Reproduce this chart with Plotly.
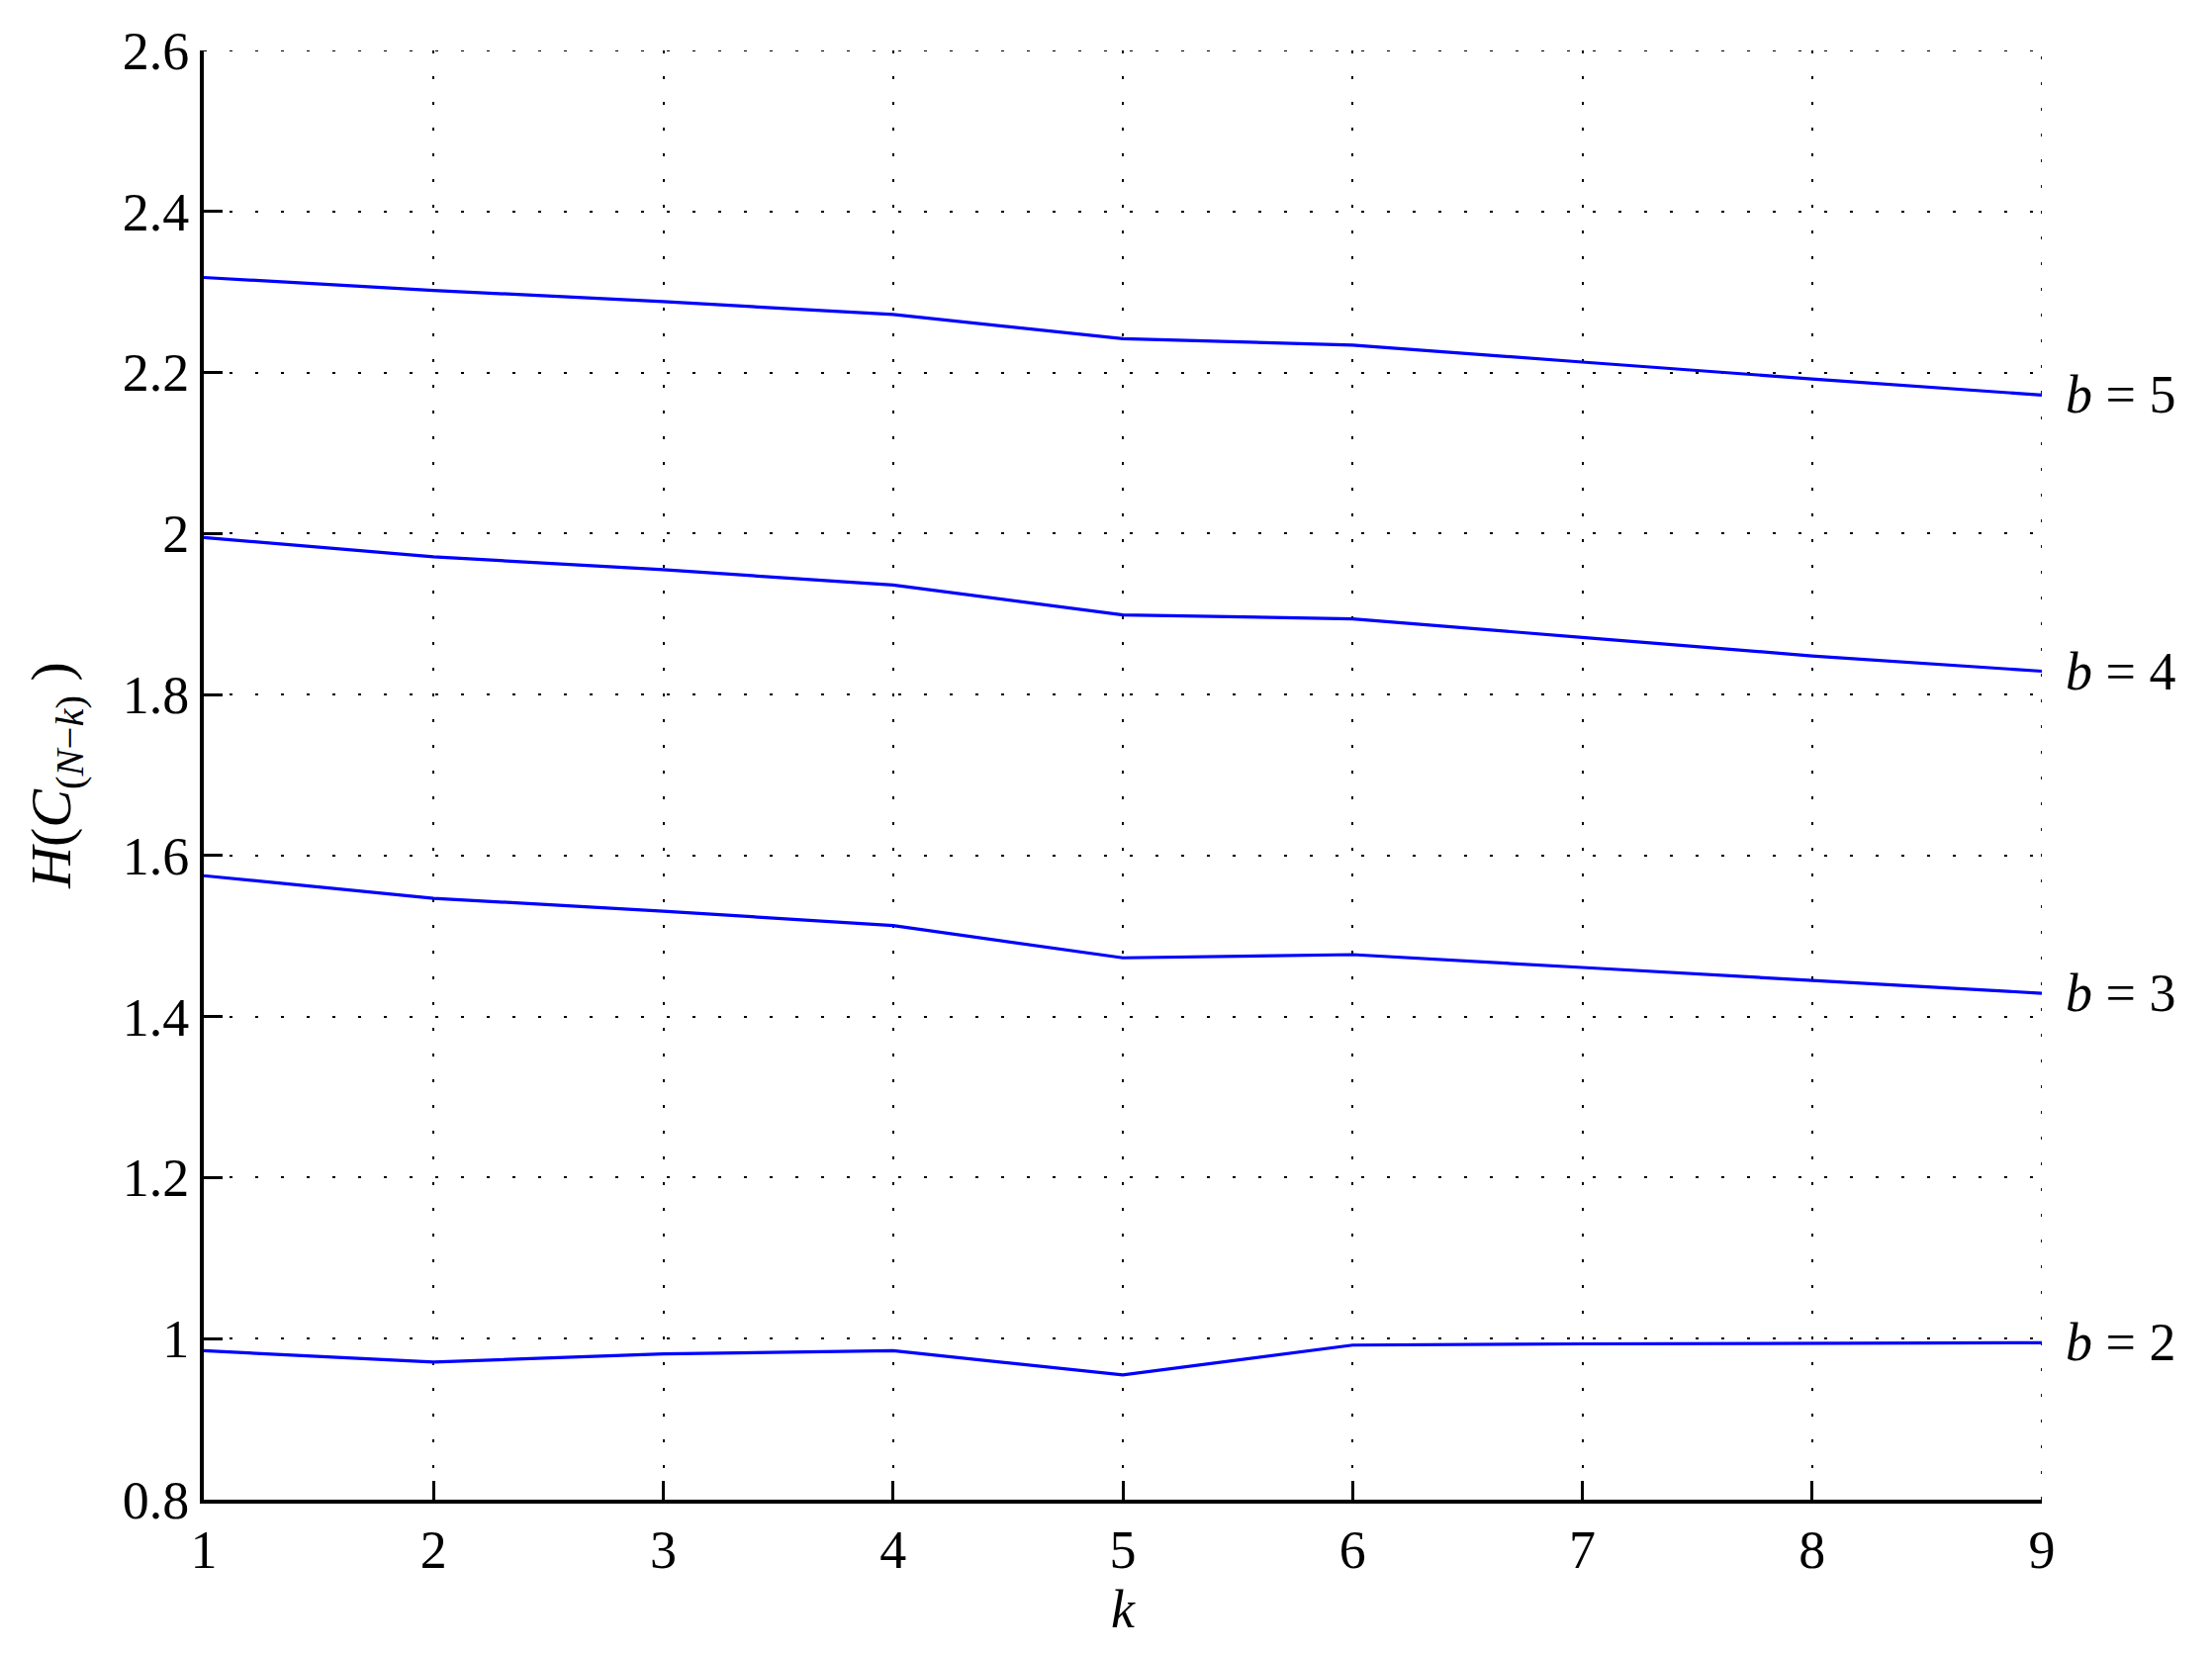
import plotly.graph_objects as go

k = [1, 2, 3, 4, 5, 6, 7, 8, 9]
b5 = [2.318, 2.302, 2.288, 2.272, 2.242, 2.234, 2.213, 2.192, 2.172]
b4 = [1.995, 1.971, 1.955, 1.936, 1.899, 1.894, 1.871, 1.848, 1.829]
b3 = [1.575, 1.547, 1.531, 1.513, 1.473, 1.477, 1.461, 1.445, 1.429]
b2 = [0.985, 0.971, 0.981, 0.985, 0.955, 0.992, 0.9935, 0.9947, 0.995]
labels = ["5", "4", "3", "2"]
series = [b5, b4, b3, b2]
y_ticks = [0.8, 1.0, 1.2, 1.4, 1.6, 1.8, 2.0, 2.2, 2.4, 2.6]
y_tick_text = ["0.8", "1", "1.2", "1.4", "1.6", "1.8", "2", "2.2", "2.4", "2.6"]
x_range = [1, 9]
y_range = [0.8, 2.6]

FONT = "Liberation Serif"
FS = 54
DASH = "3px,23px"

fig = go.Figure()
for lab, ys in zip(labels, series):
    fig.add_trace(go.Scatter(x=k, y=ys, mode="lines", line=dict(color="#0000ff", width=3.2),
                             showlegend=False, hoverinfo="skip"))
    fig.add_annotation(x=k[-1], y=ys[-1], text="<i>b</i>&nbsp;=&nbsp;" + lab, showarrow=False,
                       xanchor="left", yanchor="middle", xshift=22,
                       font=dict(family=FONT, size=FS, color="black"))

# dotted grid lines at the upper and right range edges (plotly omits edge grid lines)
fig.add_shape(type="line", xref="paper", yref="y", x0=0, x1=1, y0=y_range[1], y1=y_range[1],
              line=dict(color="black", width=1.8, dash=DASH), layer="below")
fig.add_shape(type="line", xref="x", yref="paper", x0=x_range[1], x1=x_range[1], y0=0, y1=1,
              line=dict(color="black", width=1.8, dash=DASH), layer="below")

axis_common = dict(
    showline=True, linecolor="black", linewidth=4,
    ticks="inside", ticklen=19, tickwidth=3, tickcolor="black",
    showgrid=True, gridcolor="black", gridwidth=1.8, griddash=DASH,
    zeroline=False, mirror=False,
    tickfont=dict(family=FONT, size=FS, color="black"),
)

fig.update_xaxes(range=x_range, tickvals=k, ticktext=[str(v) for v in k],
                 title=dict(text="<i>k</i>", font=dict(family=FONT, size=FS, color="black"), standoff=8),
                 **axis_common)
fig.update_yaxes(range=y_range, tickvals=y_ticks, ticktext=y_tick_text,
                 title=dict(text="<i>H</i>(<i>C</i><sub>(<i>N</i>−<i>k</i>)</sub> )",
                            font=dict(family=FONT, size=58, color="black"), standoff=34),
                 **axis_common)

fig.update_layout(
    width=2236, height=1672,
    margin=dict(l=198, r=180, t=43, b=164),
    paper_bgcolor="white", plot_bgcolor="white",
)

fig.write_html("out.html")
